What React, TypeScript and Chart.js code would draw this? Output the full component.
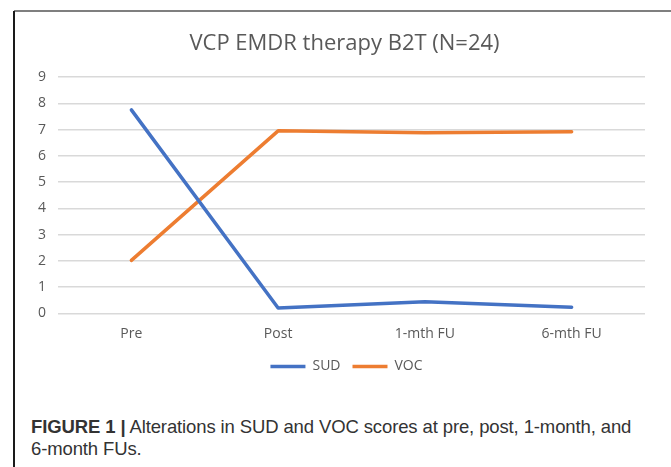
import React, { useEffect, useRef } from "react";
import { Chart, registerables } from "chart.js";

Chart.register(...registerables);

const categories = ["Pre", "Post", "1-mth FU", "6-mth FU"];
const sudValues = [7.75, 0.21, 0.45, 0.24];
const vocValues = [2.02, 6.95, 6.88, 6.92];
const yTicks = [0, 1, 2, 3, 4, 5, 6, 7, 8, 9];
const titleText = "VCP EMDR therapy B2T (N=24)";
const captionBold = "FIGURE 1 |";
const captionRest = " Alterations in SUD and VOC scores at pre, post, 1-month, and 6-month FUs.";

const FONT = "'Open Sans', 'Noto Sans', sans-serif";

const boxShift = {
  id: "boxShift",
  afterLayout(chart: any) {
    const l = chart.legend;
    if (l) {
      l.left += 17;
      l.right += 17;
    }
    const t = chart.titleBlock;
    if (t) {
      t.left += 15;
      t.right += 15;
    }
  },
};

export default function App() {
  const ref = useRef<HTMLCanvasElement | null>(null);

  useEffect(() => {
    document.body.style.margin = "0";
    const canvas = ref.current;
    if (!canvas) return;
    const chart = new Chart(canvas, {
      type: "line",
      data: {
        labels: categories,
        datasets: [
          {
            label: "SUD",
            data: sudValues,
            borderColor: "#4472C4",
            backgroundColor: "#4472C4",
            borderWidth: 3.5,
            pointRadius: 0,
            pointHoverRadius: 0,
            borderCapStyle: "round",
            borderJoinStyle: "round",
            tension: 0,
          },
          {
            label: "VOC",
            data: vocValues,
            borderColor: "#ED7D31",
            backgroundColor: "#ED7D31",
            borderWidth: 3.5,
            pointRadius: 0,
            pointHoverRadius: 0,
            borderCapStyle: "round",
            borderJoinStyle: "round",
            tension: 0,
          },
        ],
      },
      plugins: [boxShift],
      options: {
        animation: false,
        responsive: false,
        devicePixelRatio: 1,
        layout: { padding: { left: 0, right: 31, top: 0, bottom: 18.5 } },
        plugins: {
          title: {
            display: true,
            text: titleText,
            color: "#595959",
            font: { family: FONT, size: 22, weight: "normal", lineHeight: 1.2 },
            padding: { top: 18.5, bottom: 20.1 },
          },
          legend: {
            display: true,
            position: "bottom",
            labels: {
              usePointStyle: true,
              pointStyle: "line",
              pointStyleWidth: 35,
              color: "#595959",
              font: { family: FONT, size: 14 },
              padding: 12,
            },
          },
          tooltip: { enabled: false },
        },
        scales: {
          x: {
            grid: { display: false, drawTicks: false },
            border: { display: false },
            offset: true,
            ticks: {
              color: "#595959",
              font: { family: FONT, size: 14 },
              padding: 12,
              maxRotation: 0,
            },
            afterFit: (s: any) => {
              s.height = 34;
            },
          },
          y: {
            min: 0,
            max: 9,
            grid: { color: "#d9d9d9", lineWidth: 1.5, drawTicks: false },
            border: { display: false },
            afterBuildTicks: (s: any) => {
              s.ticks = yTicks.map((v) => ({ value: v }));
            },
            ticks: {
              color: "#595959",
              font: { family: FONT, size: 14 },
              padding: 12,
            },
            afterFit: (s: any) => {
              s.width = 44;
            },
          },
        },
      },
    });
    return () => chart.destroy();
  }, []);

  return (
    <div
      style={{
        position: "relative",
        width: 671,
        height: 467,
        overflow: "hidden",
        background: "#ffffff",
      }}
    >
      <canvas
        ref={ref}
        width={662}
        height={390}
        style={{ position: "absolute", left: 14, top: 12, width: 662, height: 390 }}
      />
      <div
        style={{
          position: "absolute",
          left: 14,
          top: 10,
          width: 700,
          height: 2,
          background: "#7f7f7f",
        }}
      />
      <div
        style={{
          position: "absolute",
          left: 13,
          top: 11,
          width: 2,
          height: 460,
          background: "#1a1a1a",
        }}
      />
      <div
        style={{
          position: "absolute",
          left: 31,
          top: 415.7,
          width: 616,
          fontFamily: "'Liberation Sans', Arial, sans-serif",
          fontSize: 18.5,
          letterSpacing: "-0.12px",
          lineHeight: "22px",
          color: "#333333",
        }}
      >
        <span style={{ fontWeight: "bold" }}>{captionBold}</span>
        {captionRest}
      </div>
    </div>
  );
}
